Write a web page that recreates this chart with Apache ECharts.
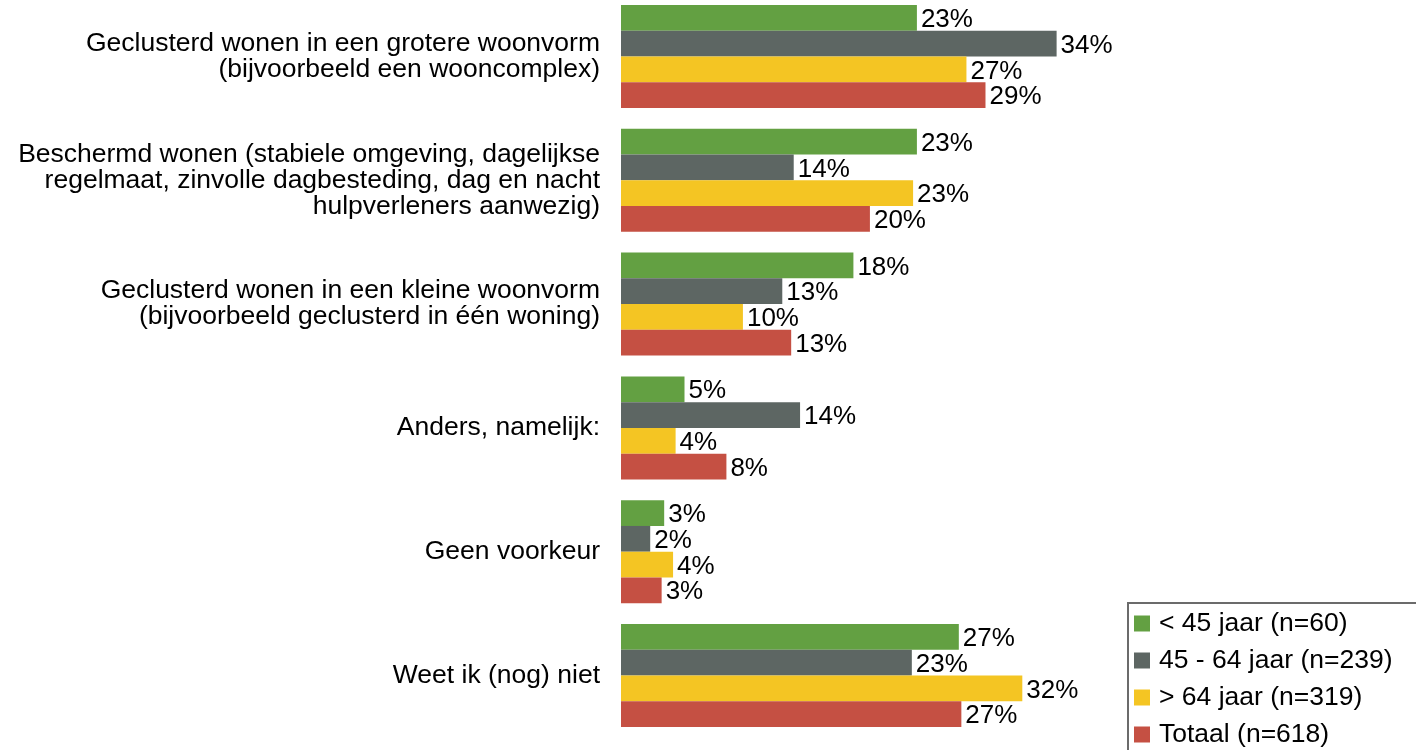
<!DOCTYPE html>
<html>
<head>
<meta charset="utf-8">
<script src="https://cdn.jsdelivr.net/npm/echarts@6/dist/echarts.min.js"></script>
<style>
  html, body { margin: 0; padding: 0; background: #fff; }
  #chart { width: 1416px; height: 750px; }
</style>
</head>
<body>
<div id="chart"></div>
<script>
// categories (top to bottom)
const categories = [
  'Geclusterd wonen in een grotere woonvorm\n(bijvoorbeeld een wooncomplex)',
  'Beschermd wonen (stabiele omgeving, dagelijkse\nregelmaat, zinvolle dagbesteding, dag en nacht\nhulpverleners aanwezig)',
  'Geclusterd wonen in een kleine woonvorm\n(bijvoorbeeld geclusterd in één woning)',
  'Anders, namelijk:',
  'Geen voorkeur',
  'Weet ik (nog) niet'
]

const seriesNames = ['< 45 jaar (n=60)', '45 - 64 jaar (n=239)', '> 64 jaar (n=319)', 'Totaal (n=618)']
const colors = ['#63a042', '#5d6663', '#f4c523', '#c55043']

// percentages
const under45 = [23.3, 23.3, 18.3, 5.0, 3.4, 26.6]
const age45to64 = [34.3, 13.6, 12.7, 14.1, 2.3, 22.9]
const over64 = [27.2, 23.0, 9.6, 4.3, 4.1, 31.6]
const totaal = [28.7, 19.6, 13.4, 8.3, 3.2, 26.8]

const seriesData = [under45, age45to64, over64, totaal]

const font = 'Liberation Sans, Arial, sans-serif'

const chart = echarts.init(document.getElementById('chart'), null, { renderer: 'canvas' })

chart.setOption({
  animation: false,
  textStyle: { fontFamily: font },
  grid: {
    left: 621,
    top: -5.4,
    width: 508,
    height: 742.8,
    outerBoundsMode: 'none'
  },
  xAxis: {
    type: 'value',
    min: 0,
    max: 40,
    show: false
  },
  yAxis: {
    type: 'category',
    data: categories,
    inverse: true,
    axisLine: { show: false },
    axisTick: { show: false },
    axisLabel: {
      margin: 21,
      fontSize: 26.5,
      lineHeight: 26,
      padding: [4, 0, 0, 0],
      color: '#000',
      fontFamily: font,
      align: 'right'
    }
  },
  legend: {
    orient: 'vertical',
    left: 1128,
    top: 603,
    height: 220,
    padding: [7, 60, 20, 6],
    borderColor: '#6b6b6b',
    borderWidth: 2,
    itemWidth: 16,
    itemHeight: 16,
    itemGap: 10,
    icon: 'rect',
    data: seriesNames,
    textStyle: {
      fontSize: 26.5,
      color: '#000',
      fontFamily: font,
      padding: [0, 0, 0, 4]
    }
  },
  series: seriesNames.map((name, i) => ({
    name: name,
    type: 'bar',
    data: seriesData[i],
    barGap: '0%',
    barCategoryGap: '16.8%',
    itemStyle: { color: colors[i] },
    label: {
      show: true,
      position: 'right',
      distance: 4,
      offset: [0, 2],
      fontSize: 26,
      color: '#000',
      fontFamily: font,
      formatter: p => Math.round(p.value) + '%'
    }
  }))
})
</script>
</body>
</html>
